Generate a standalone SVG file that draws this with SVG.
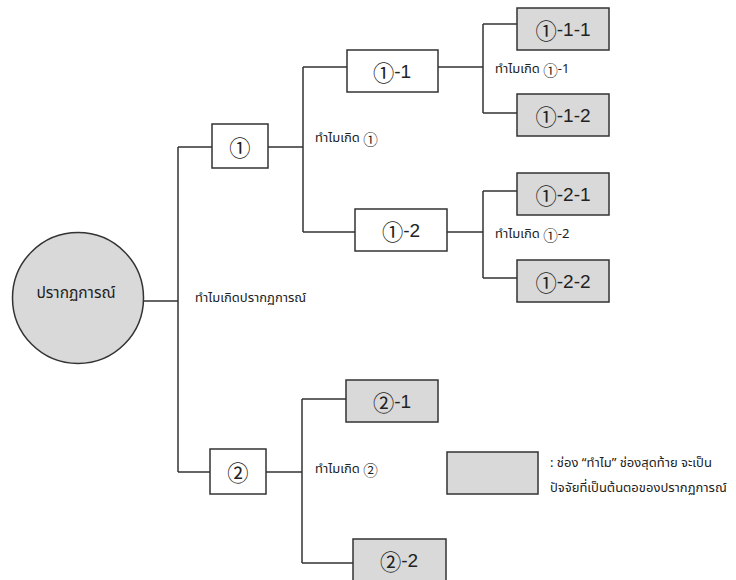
<svg xmlns="http://www.w3.org/2000/svg" width="736" height="580" viewBox="0 0 736 580">
<style>
.ln{fill:none;stroke:#333;stroke-width:1.5}
.bw{fill:#fff;stroke:#333;stroke-width:1.5}
.bg{fill:#d9d9d9;stroke:#333;stroke-width:1.5}
.lb{font-family:"Liberation Sans","DejaVu Sans",sans-serif;font-size:19px;fill:#222;text-anchor:middle;dominant-baseline:central}
.c{font-family:"Noto Sans CJK JP","DejaVu Sans",sans-serif;font-size:1.12em}
.th{font-family:"Noto Sans Thai","Tahoma","DejaVu Sans",sans-serif;font-size:13px;fill:#222;dominant-baseline:central}
.tc{font-family:"Noto Sans Thai","Tahoma","DejaVu Sans",sans-serif;font-size:15.5px;fill:#222;text-anchor:middle;dominant-baseline:central}
</style>
<rect width="736" height="580" fill="#fff"/>
<g id="connectors">
<path class="ln" d="M143,301 H178 M178,147 V472 M178,147 H212 M178,472 H210"/>
<path class="ln" d="M268,147 H303 M303,67 V232 M303,67 H347 M303,232 H355"/>
<path class="ln" d="M438,67 H483 M483,24 V113 M483,24 H517 M483,113 H517"/>
<path class="ln" d="M447,232 H483 M483,191 V278 M483,191 H517 M483,278 H517"/>
<path class="ln" d="M266,472 H302 M302,399 V563 M302,399 H346 M302,563 H353"/>
</g>
<g id="root"><circle cx="78" cy="298" r="65.5" fill="#d9d9d9" stroke="#333" stroke-width="1.5"/><text class="tc" x="76" y="293">ปรากฏการณ์</text></g>
<g id="n1"><rect class="bw" x="212" y="124" width="56" height="44"/><text class="lb" x="240" y="146"><tspan class="c">①</tspan></text></g>
<g id="n1-1"><rect class="bw" x="347" y="50" width="91" height="42"/><text class="lb" x="392" y="71"><tspan class="c">①</tspan>-1</text></g>
<g id="n1-2"><rect class="bw" x="355" y="209" width="92" height="42"/><text class="lb" x="401" y="230"><tspan class="c">①</tspan>-2</text></g>
<g id="n1-1-1"><rect class="bg" x="517" y="8" width="92" height="42"/><text class="lb" x="563" y="29"><tspan class="c">①</tspan>-1-1</text></g>
<g id="n1-1-2"><rect class="bg" x="517" y="94" width="92" height="42"/><text class="lb" x="563" y="115"><tspan class="c">①</tspan>-1-2</text></g>
<g id="n1-2-1"><rect class="bg" x="517" y="173" width="92" height="42"/><text class="lb" x="563" y="194"><tspan class="c">①</tspan>-2-1</text></g>
<g id="n1-2-2"><rect class="bg" x="517" y="260" width="92" height="42"/><text class="lb" x="563" y="281"><tspan class="c">①</tspan>-2-2</text></g>
<g id="n2"><rect class="bw" x="210" y="449" width="56" height="45"/><text class="lb" x="238" y="471"><tspan class="c">②</tspan></text></g>
<g id="n2-1"><rect class="bg" x="346" y="380" width="92" height="42"/><text class="lb" x="392" y="401"><tspan class="c">②</tspan>-1</text></g>
<g id="n2-2"><rect class="bg" x="353" y="539" width="93" height="44"/><text class="lb" x="399" y="560"><tspan class="c">②</tspan>-2</text></g>
<g id="legend"><rect class="bg" x="447" y="452" width="91" height="42"/>
<text class="th" x="550" y="463">: ช่อง “ทำไม” ช่องสุดท้าย จะเป็น</text>
<text class="th" x="550" y="488">ปัจจัยที่เป็นต้นตอของปรากฏการณ์</text></g>
<g id="labels">
<text class="th" x="195" y="298">ทำไมเกิดปรากฏการณ์</text>
<text class="th" x="315" y="138">ทำไมเกิด <tspan class="c">①</tspan></text>
<text class="th" x="495" y="69">ทำไมเกิด <tspan class="c">①</tspan>-1</text>
<text class="th" x="495" y="234">ทำไมเกิด <tspan class="c">①</tspan>-2</text>
<text class="th" x="315" y="469">ทำไมเกิด <tspan class="c">②</tspan></text>
</g>
</svg>
